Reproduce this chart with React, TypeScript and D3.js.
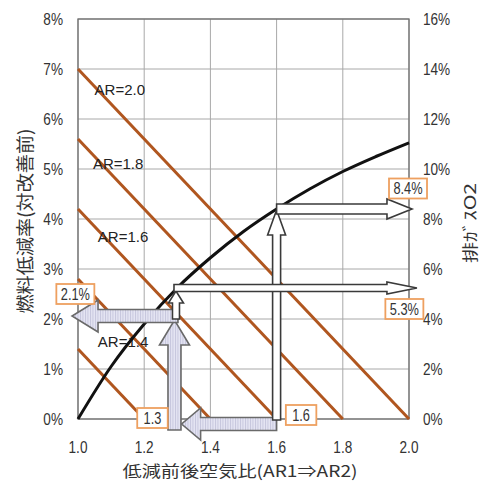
import React, { useEffect, useRef } from 'react';
import * as d3 from 'd3';

const W = 487;
const H = 483;

// axes
const xTicks = [1.0, 1.2, 1.4, 1.6, 1.8, 2.0];
const leftTicks = [0, 1, 2, 3, 4, 5, 6, 7, 8];
const rightTicks = [0, 2, 4, 6, 8, 10, 12, 14, 16];

// fuel reduction lines: value at AR1=1.0, reaching 0 at AR1=ar
const arValues = [2.0, 1.8, 1.6, 1.4, 1.2];
const arStartValues = [7.0, 5.6, 4.2, 2.8, 1.4];
const arLabels = ['AR=2.0', 'AR=1.8', 'AR=1.6', 'AR=1.4'];
const arLabelAnchors = [[1.05, 6.58], [1.045, 5.1], [1.06, 3.64], [1.06, 1.54]];

// exhaust O2 (right axis)
const o2X = [1.0, 1.1, 1.2, 1.3, 1.4, 1.5, 1.6, 1.7, 1.8, 1.9, 2.0];
const o2Values = [0, 2.1, 3.8, 5.25, 6.45, 7.5, 8.4, 9.2, 9.9, 10.5, 11.05];

// arrows, in data units (x, left-axis %)
const greyArrows = [
  { from: [1.6, -0.1], to: [1.313, -0.1], body: 13, head: 32, len: 19 },
  { from: [1.2915, -0.22], to: [1.2915, 1.98], body: 13, head: 30, len: 25 },
  { from: [1.302, 2.06], to: [0.982, 2.06], body: 13, head: 32, len: 26 },
];
const whiteArrows = [
  { from: [1.6, -0.02], to: [1.6, 4.18], body: 8, head: 18, len: 25 },
  { from: [1.6, 4.2], to: [2.009, 4.2], body: 10, head: 20, len: 25 },
  { from: [1.296, 2.0], to: [1.296, 2.56], body: 7, head: 15, len: 12 },
  { from: [1.29, 2.62], to: [2.024, 2.62], body: 7, head: 12, len: 30 },
];

// value boxes
const boxTexts = ['8.4%', '5.3%', '2.1%', '1.3', '1.6'];
const boxAnchors = [[1.997, 4.61], [1.986, 2.2], [0.992, 2.5], [1.225, 0.02], [1.674, 0.08]];

const tickFont = "'Liberation Sans', sans-serif";
const jpFont = "'Noto Sans CJK JP', sans-serif";
const narrow = 0.8;

const App: React.FC = () => {
  const svgRef = useRef<SVGSVGElement>(null);

  useEffect(() => {
    if (!svgRef.current) return;
    const svg = d3.select(svgRef.current);
    svg.selectAll('*').remove();

    const margin = { top: 19, right: 78, bottom: 64, left: 78 };
    const x = d3.scaleLinear().domain([1.0, 2.0]).range([margin.left, W - margin.right]);
    const y = d3.scaleLinear().domain([0, 8]).range([H - margin.bottom, margin.top]);
    const y2 = d3.scaleLinear().domain([0, 16]).range([H - margin.bottom, margin.top]);

    const defs = svg.append('defs');
    const pat = defs.append('pattern')
      .attr('id', 'hatch')
      .attr('patternUnits', 'userSpaceOnUse')
      .attr('width', 2.5)
      .attr('height', 4);
    pat.append('rect').attr('width', 2.5).attr('height', 4).attr('fill', '#e4e4f2');
    pat.append('rect').attr('width', 0.9).attr('height', 4).attr('fill', '#c4c4dc');

    // grid
    const grid = svg.append('g');
    grid.selectAll('.vg')
      .data(xTicks)
      .enter()
      .append('line')
      .attr('x1', d => x(d)).attr('x2', d => x(d))
      .attr('y1', y(0)).attr('y2', y(8))
      .attr('stroke', '#a8a8a8').attr('stroke-width', 1);
    grid.selectAll('.hg')
      .data(leftTicks)
      .enter()
      .append('line')
      .attr('x1', x(1)).attr('x2', x(2))
      .attr('y1', d => y(d)).attr('y2', d => y(d))
      .attr('stroke', '#a8a8a8').attr('stroke-width', 1);
    svg.append('rect')
      .attr('x', x(1)).attr('y', y(8))
      .attr('width', x(2) - x(1)).attr('height', y(0) - y(8))
      .attr('fill', 'none').attr('stroke', '#707070').attr('stroke-width', 1.3);

    // tick labels (condensed look)
    svg.selectAll('.lt')
      .data(leftTicks)
      .enter()
      .append('text')
      .attr('transform', d => `translate(63,${y(d) + 6}) scale(${narrow},1)`)
      .attr('text-anchor', 'end')
      .attr('font-family', tickFont).attr('font-size', 17).attr('fill', '#333')
      .text(d => `${d}%`);
    svg.selectAll('.rt')
      .data(rightTicks)
      .enter()
      .append('text')
      .attr('transform', d => `translate(423,${y2(d) + 6}) scale(${narrow},1)`)
      .attr('font-family', tickFont).attr('font-size', 17).attr('fill', '#333')
      .text(d => `${d}%`);
    svg.selectAll('.bt')
      .data(xTicks)
      .enter()
      .append('text')
      .attr('transform', d => `translate(${x(d)},453) scale(${narrow},1)`)
      .attr('text-anchor', 'middle')
      .attr('font-family', tickFont).attr('font-size', 17).attr('fill', '#333')
      .text(d => d.toFixed(1));

    // axis titles
    svg.append('text')
      .attr('x', 240).attr('y', 477)
      .attr('text-anchor', 'middle')
      .attr('font-family', jpFont).attr('font-size', 16).attr('fill', '#333')
      .attr('textLength', 235).attr('lengthAdjust', 'spacingAndGlyphs')
      .text('低減前後空気比(AR1⇒AR2)');
    svg.append('text')
      .attr('transform', 'translate(32,221) rotate(-90)')
      .attr('text-anchor', 'middle')
      .attr('font-family', jpFont).attr('font-size', 18).attr('fill', '#333')
      .attr('textLength', 185).attr('lengthAdjust', 'spacingAndGlyphs')
      .text('燃料低減率(対改善前)');
    svg.append('text')
      .attr('transform', 'translate(476,223) rotate(-90)')
      .attr('text-anchor', 'middle')
      .attr('font-family', jpFont).attr('font-size', 16).attr('fill', '#333')
      .attr('textLength', 80).attr('lengthAdjust', 'spacingAndGlyphs')
      .text('排ｶﾞｽO2');

    // AR lines
    svg.selectAll('.ar')
      .data(arValues)
      .enter()
      .append('line')
      .attr('x1', x(1)).attr('y1', (d, i) => y(arStartValues[i]))
      .attr('x2', d => x(d)).attr('y2', y(0))
      .attr('stroke', '#b0561f').attr('stroke-width', 3);

    svg.selectAll('.arl')
      .data(arLabels)
      .enter()
      .append('text')
      .attr('x', (d, i) => x(arLabelAnchors[i][0]))
      .attr('y', (d, i) => y(arLabelAnchors[i][1]) + 5)
      .attr('font-family', tickFont).attr('font-size', 15)
      .attr('fill', '#222')
      .text(d => d);

    // O2 curve
    const line = d3.line<number>()
      .x((d, i) => x(o2X[i]))
      .y(d => y2(d))
      .curve(d3.curveMonotoneX);
    svg.append('path')
      .datum(o2Values)
      .attr('fill', 'none')
      .attr('stroke', '#111')
      .attr('stroke-width', 3)
      .attr('d', line);

    // block arrows
    const arrowPath = (a: { from: number[]; to: number[]; body: number; head: number; len: number }) => {
      const x1 = x(a.from[0]), y1 = y(a.from[1]);
      const x2 = x(a.to[0]), y2p = y(a.to[1]);
      const dx = x2 - x1, dy = y2p - y1;
      const L = Math.hypot(dx, dy);
      const ux = dx / L, uy = dy / L;
      const nx = -uy, ny = ux;
      const bw = a.body / 2, hw = a.head / 2;
      const bx = x2 - ux * a.len, by = y2p - uy * a.len;
      const pts = [
        [x1 + nx * bw, y1 + ny * bw],
        [bx + nx * bw, by + ny * bw],
        [bx + nx * hw, by + ny * hw],
        [x2, y2p],
        [bx - nx * hw, by - ny * hw],
        [bx - nx * bw, by - ny * bw],
        [x1 - nx * bw, y1 - ny * bw],
      ];
      return 'M' + pts.map(p => p.join(',')).join('L') + 'Z';
    };

    svg.selectAll('.ga')
      .data(greyArrows)
      .enter()
      .append('path')
      .attr('d', d => arrowPath(d))
      .attr('fill', 'url(#hatch)')
      .attr('stroke', '#6a6a6a')
      .attr('stroke-width', 1.6)
      .attr('stroke-linejoin', 'miter');

    svg.selectAll('.wa')
      .data(whiteArrows)
      .enter()
      .append('path')
      .attr('d', d => arrowPath(d))
      .attr('fill', '#fff')
      .attr('stroke', '#3a3a3a')
      .attr('stroke-width', 1.6)
      .attr('stroke-linejoin', 'miter');

    // value boxes
    const boxes = svg.selectAll('.bx')
      .data(boxTexts)
      .enter()
      .append('g')
      .attr('transform', (d, i) => `translate(${x(boxAnchors[i][0])},${y(boxAnchors[i][1])})`);
    boxes.append('rect')
      .attr('x', d => -(d.length * 7.5 + 8) / 2)
      .attr('y', -10)
      .attr('width', d => d.length * 7.5 + 8)
      .attr('height', 20)
      .attr('fill', '#fff')
      .attr('stroke', '#eea060')
      .attr('stroke-width', 1.8);
    boxes.append('text')
      .attr('transform', `translate(0,5.5) scale(${narrow},1)`)
      .attr('text-anchor', 'middle')
      .attr('font-family', tickFont).attr('font-size', 16).attr('fill', '#333')
      .text(d => d);
  }, []);

  return (
    <svg
      ref={svgRef}
      width={W}
      height={H}
      style={{ position: 'absolute', left: 0, top: 0, background: '#fff' }}
    />
  );
};

export default App;
